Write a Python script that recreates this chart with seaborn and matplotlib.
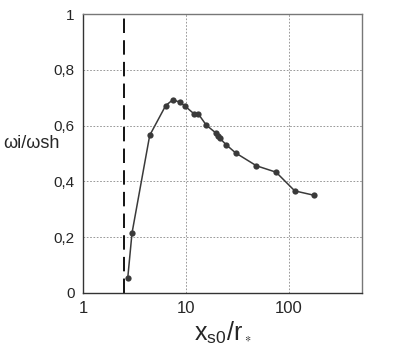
import matplotlib
matplotlib.use("Agg")
import matplotlib.pyplot as plt
import seaborn as sns
import pandas as pd

# data
xs0_r = [2.72, 2.99, 4.44, 6.35, 7.48, 8.75, 9.7, 12.05, 13.2, 15.7, 19.4, 20.5,
         21.2, 24.6, 30.3, 48.2, 74.8, 113.5, 176.0]
omega_ratio = [0.055, 0.215, 0.565, 0.672, 0.693, 0.683, 0.671, 0.641, 0.641, 0.602,
               0.574, 0.563, 0.555, 0.531, 0.502, 0.456, 0.433, 0.366, 0.350]
threshold_x = 2.5
x_ticks = [1, 10, 100]
x_ticklabels = ["1", "10", "100"]
y_ticks = [0, 0.2, 0.4, 0.6, 0.8, 1.0]
y_ticklabels = ["0", "0,2", "0,4", "0,6", "0,8", "1"]

df = pd.DataFrame({"x": xs0_r, "y": omega_ratio})

sns.set_theme(style="white")
plt.rcParams["font.family"] = ["Liberation Sans", "DejaVu Sans"]
plt.rcParams["mathtext.fontset"] = "stix"

fig = plt.figure(figsize=(4.15, 3.47), dpi=100)
ax = fig.add_axes([83 / 415, 1 - 293 / 347, 279 / 415, 279 / 347])

sns.lineplot(data=df, x="x", y="y", ax=ax, color="#3a3a3a", linewidth=1.1,
             marker="o", markersize=4.5, markeredgewidth=0)
ax.axvline(threshold_x, color="black", linestyle=(0, (8, 4)), linewidth=1.3)

ax.set_xscale("log")
ax.set_xlim(1, 510)
ax.set_ylim(0, 1)
ax.set_xticks(x_ticks)
ax.set_xticklabels(x_ticklabels, fontsize=12)
ax.minorticks_off()
ax.set_yticks(y_ticks)
ax.set_yticklabels(y_ticklabels, fontsize=11)
ax.tick_params(axis="y", length=3, width=0.6, color="#555555", pad=3)
ax.tick_params(axis="x", length=0, pad=6)

ax.grid(True, which="major", color="#888888", linestyle=(0, (2, 2)), linewidth=0.6)
for spine in ax.spines.values():
    spine.set_color("#777777")
    spine.set_linewidth(1.0)
ax.spines["left"].set_color("#333333")
ax.spines["bottom"].set_color("#333333")

ax.set_xlabel(r"x$_{\mathregular{s0}}$/r$_{_*}$", fontsize=18, labelpad=2)
ax.set_ylabel("")
fig.text(0.008, 1 - 143 / 347, "ωi/ωsh", fontsize=13, va="center", ha="left")

fig.savefig("out.png", dpi=100, facecolor="white")
